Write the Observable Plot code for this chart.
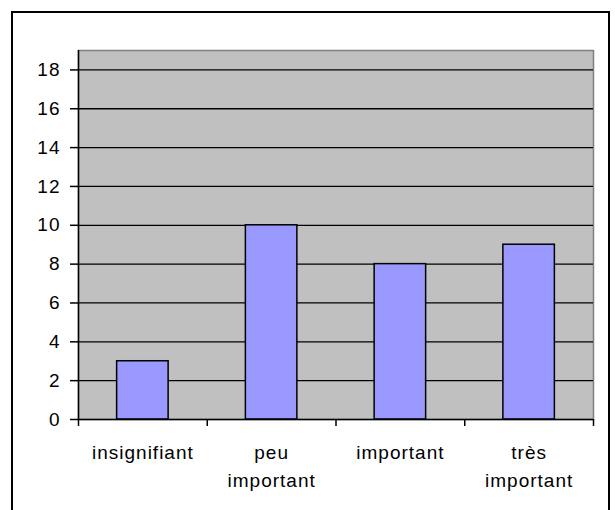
<!DOCTYPE html>
<html>
<head>
<meta charset="utf-8">
<script src="https://cdn.jsdelivr.net/npm/d3@7"></script>
<script src="https://cdn.jsdelivr.net/npm/@observablehq/plot@0.6"></script>
<style>
  html, body { margin: 0; padding: 0; background: #fff; width: 615px; height: 510px; overflow: hidden; }
  #wrap { position: relative; width: 615px; height: 510px; }
  #border { position: absolute; left: 11px; top: 11px; width: 599px; height: 520px; border: 2px solid #000; box-sizing: border-box; }
  #chart { position: absolute; left: 0; top: 0; }
  #chart svg text { font-family: "Liberation Sans", Arial, sans-serif; letter-spacing: 1px; }
</style>
</head>
<body>
<div id="wrap">
  <div id="border"></div>
  <div id="chart"></div>
</div>
<script>
const categories = ["insignifiant", "peu\nimportant", "important", "très\nimportant"];
const values = [3, 10, 8, 9];
const yTicks = [0, 2, 4, 6, 8, 10, 12, 14, 16, 18];
const yMax = 19;

const data = categories.map((c, i) => ({i, label: c, value: values[i]}));
const boundaries = d3.range(categories.length + 1);
const centers = categories.map((c, i) => i + 0.5);

const plot = Plot.plot({
  width: 615,
  height: 510,
  marginLeft: 78,
  marginRight: 22,
  marginTop: 50,
  marginBottom: 91,
  style: {background: "transparent", fontSize: "19px", color: "#000"},
  x: {domain: [0, categories.length]},
  y: {domain: [0, yMax]},
  marks: [
    Plot.frame({fill: "#c0c0c0", stroke: "#808080", strokeWidth: 1.5}),
    Plot.ruleY(yTicks.filter(t => t > 0), {stroke: "#000", strokeWidth: 1.3}),
    Plot.rectY(data, {x1: d => d.i + 0.3, x2: d => d.i + 0.7, y1: 0, y2: "value", fill: "#9999ff", stroke: "#000", strokeWidth: 1.5}),
    Plot.ruleX([0], {stroke: "#000", strokeWidth: 1.5}),
    Plot.ruleY([0], {stroke: "#000", strokeWidth: 1.5}),
    Plot.axisY({ticks: yTicks, tickSize: 8, tickPadding: 10, stroke: "#000", strokeWidth: 1.5, fontSize: 19, label: null}),
    Plot.axisX({ticks: boundaries, tickSize: 7, tickFormat: () => "", stroke: "#000", strokeWidth: 1.5, label: null}),
    Plot.axisX({ticks: centers, tickSize: 0, tickPadding: 20, tickFormat: v => categories[Math.floor(v)], fontSize: 19, lineHeight: 1.45, label: null, textAnchor: "middle"})
  ]
});
document.getElementById("chart").appendChild(plot);
</script>
</body>
</html>
